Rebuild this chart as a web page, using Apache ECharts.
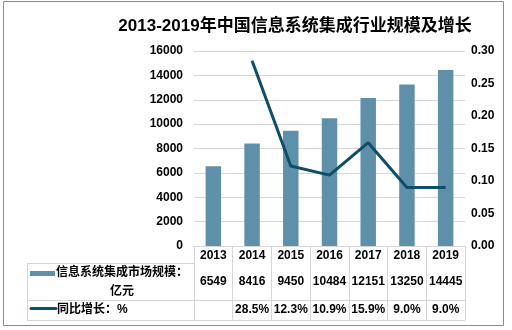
<!DOCTYPE html>
<html>
<head>
<meta charset="utf-8">
<script src="https://cdn.jsdelivr.net/npm/echarts@6/dist/echarts.min.js"></script>
<style>
  html, body { margin: 0; padding: 0; background: #fff; }
  #chart { width: 512px; height: 330px; }
</style>
</head>
<body>
<div id="chart"></div>
<script>
// Market size (亿元) and year-on-year growth of China's IT system integration industry
const years = ['2013', '2014', '2015', '2016', '2017', '2018', '2019'];
const marketSize = [6549, 8416, 9450, 10484, 12151, 13250, 14445];
const growthRate = [null, 0.285, 0.123, 0.109, 0.159, 0.090, 0.090];
const leftTicks = { min: 0, max: 16000, interval: 2000 };
const rightTicks = { min: 0, max: 0.30, interval: 0.05 };

const FONT = '"Liberation Sans", Arial, "Noto Sans CJK SC", sans-serif';
const BAR_COLOR = '#5e91a9';
const LINE_COLOR = '#0d4f66';
const RULE = '#d6d6d6';

// Layout of plot area and data table below it
const G = { left: 194, right: 465, top: 51, bottom: 246 };
const tableLeft = 27;
const rowLines = [263, 300, 320];

const chart = echarts.init(document.getElementById('chart'), null, { renderer: 'canvas' });

const sizeLabels = marketSize.map(v => String(v));
const growthLabels = growthRate.map(v => v == null ? '' : (v * 100).toFixed(1) + '%');

const labelStyle = { color: '#000', fontWeight: 'bold', fontSize: 12, fontFamily: FONT };

const graphics = [
  // outer frame
  { type: 'rect', shape: { x: 3.5, y: 1.5, width: 500, height: 324 },
    style: { fill: null, stroke: '#8c8c8c', lineWidth: 1 }, silent: true },
  // left header column of the table
  { type: 'line', shape: { x1: tableLeft + 0.5, y1: rowLines[0], x2: tableLeft + 0.5, y2: rowLines[2] },
    style: { stroke: RULE, lineWidth: 1 } },
  ...rowLines.map(y => ({ type: 'line',
    shape: { x1: tableLeft, y1: y + 0.5, x2: G.left, y2: y + 0.5 },
    style: { stroke: RULE, lineWidth: 1 } })),
  // legend keys
  { type: 'rect', shape: { x: 30, y: 271, width: 25, height: 5 }, style: { fill: BAR_COLOR } },
  { type: 'line', shape: { x1: 31, y1: 308.5, x2: 56, y2: 308.5 },
    style: { stroke: LINE_COLOR, lineWidth: 3, lineCap: 'round' } },
  { type: 'text', x: 122, y: 263, style: {
      text: '信息系统集成市场规模：\n亿元', align: 'center', verticalAlign: 'top',
      lineHeight: 19, font: 'bold 12px ' + FONT, fill: '#000' } },
  { type: 'text', x: 57, y: 310, style: {
      text: '同比增长：%', align: 'left', verticalAlign: 'middle',
      font: 'bold 12px ' + FONT, fill: '#000' } }
];

chart.setOption({
  animation: false,
  backgroundColor: '#fff',
  title: {
    text: '2013-2019年中国信息系统集成行业规模及增长',
    left: 290, top: 13, textAlign: 'center',
    textStyle: { fontSize: 17, fontWeight: 'bold', color: '#000', fontFamily: FONT }
  },
  grid: { left: G.left, right: 512 - G.right, top: G.top, bottom: 330 - G.bottom, containLabel: false },
  xAxis: [
    { type: 'category', data: years, position: 'bottom',
      axisLine: { show: true, lineStyle: { color: RULE } },
      axisTick: { show: true, length: rowLines[2] - G.bottom, lineStyle: { color: RULE } },
      axisLabel: Object.assign({ interval: 0, margin: 4 }, labelStyle) },
    { type: 'category', data: sizeLabels, position: 'bottom', offset: rowLines[0] - G.bottom,
      axisLine: { show: true, lineStyle: { color: RULE } },
      axisTick: { show: false },
      axisLabel: Object.assign({ interval: 0, margin: 13 }, labelStyle) },
    { type: 'category', data: growthLabels, position: 'bottom', offset: rowLines[1] - G.bottom,
      axisLine: { show: true, lineStyle: { color: RULE } },
      axisTick: { show: false },
      axisLabel: Object.assign({ interval: 0, margin: 4 }, labelStyle) },
    { type: 'category', data: years, position: 'bottom', offset: rowLines[2] - G.bottom,
      axisLine: { show: true, lineStyle: { color: RULE } },
      axisTick: { show: false }, axisLabel: { show: false } }
  ],
  yAxis: [
    { type: 'value', min: leftTicks.min, max: leftTicks.max, interval: leftTicks.interval,
      axisLine: { show: false }, axisTick: { show: false },
      splitLine: { lineStyle: { color: RULE } },
      axisLabel: Object.assign({ margin: 11, formatter: v => String(v) }, labelStyle) },
    { type: 'value', min: rightTicks.min, max: rightTicks.max, interval: rightTicks.interval,
      axisLine: { show: false }, axisTick: { show: false }, splitLine: { show: false },
      axisLabel: Object.assign({ margin: 6, formatter: v => v.toFixed(2) }, labelStyle) }
  ],
  series: [
    { name: '信息系统集成市场规模：亿元', type: 'bar', data: marketSize,
      xAxisIndex: 0, yAxisIndex: 0, barWidth: '40%',
      itemStyle: { color: BAR_COLOR } },
    { name: '同比增长：%', type: 'line', data: growthRate,
      xAxisIndex: 0, yAxisIndex: 1, showSymbol: false, symbol: 'none',
      lineStyle: { color: LINE_COLOR, width: 3 } }
  ],
  graphic: graphics
});
</script>
</body>
</html>
